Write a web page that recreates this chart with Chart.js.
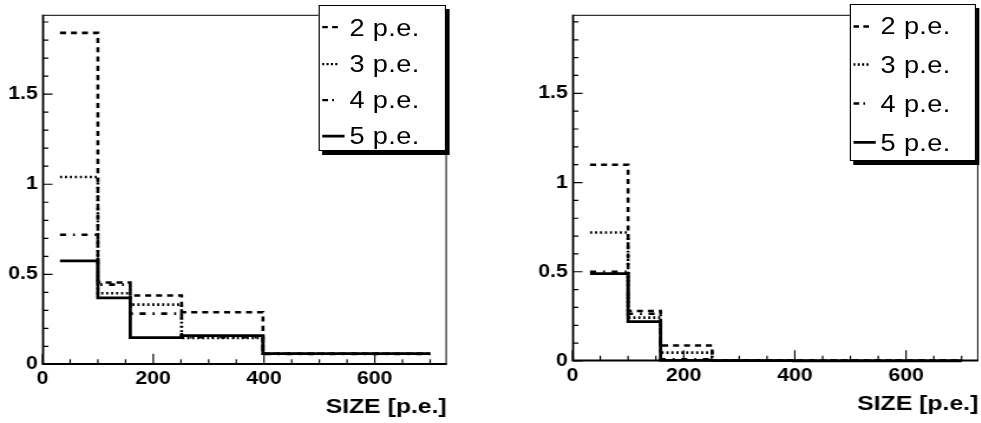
<!DOCTYPE html>
<html>
<head>
<meta charset="utf-8">
<script src="https://cdn.jsdelivr.net/npm/chart.js@4.4.1/dist/chart.umd.min.js"></script>
<style>
html,body{margin:0;padding:0;background:#fff;width:981px;height:423px;overflow:hidden}
.panel{position:absolute;top:0;height:423px;transform:scaleX(1.18);transform-origin:0 0}
.legend{position:absolute;border:1px solid #000;background:#fff;box-shadow:3px 4px 0 #000;box-sizing:border-box;font-family:'Liberation Sans',Arial,sans-serif;font-size:23px;color:#000}
.row{position:absolute;left:0;right:0}
.row svg{position:absolute;left:2.5px;top:0}
.row span{position:absolute;left:25.5px;top:50%;transform:translateY(-50%);line-height:1;white-space:nowrap;letter-spacing:0.3px}
</style>
</head>
<body>
<div class="panel" id="pL" style="left:0;width:416px"><canvas id="cL"></canvas></div>
<div class="panel" id="pR" style="left:530px;width:382px"><canvas id="cR"></canvas></div>
<script>
// ---- data ----
const binEdges = [31.6, 100, 158.5, 251.2, 398.1, 700];
const seriesLabels = ['2 p.e.', '3 p.e.', '4 p.e.', '5 p.e.'];

const leftPe2 = [1.84, 0.455, 0.383, 0.290, 0.060];
const leftPe3 = [1.04, 0.395, 0.332, 0.147, 0.060];
const leftPe4 = [0.72, 0.443, 0.282, 0.152, 0.058];
const leftPe5 = [0.575, 0.370, 0.149, 0.160, 0.060];

const rightPe2 = [1.10, 0.280, 0.087, 0.004, 0.002];
const rightPe3 = [0.72, 0.243, 0.047, 0.003, 0.001];
const rightPe4 = [0.50, 0.265, 0.010, 0.003, 0.001];
const rightPe5 = [0.49, 0.221, 0.003, 0.002, 0.001];

const xTickValues = [0, 200, 400, 600];
const yTickValues = [0, 0.5, 1, 1.5];
const xAxisTitle = 'SIZE [p.e.]';

// ---- styles ----
const dashStyles = [[5.1, 4.2], [1.8, 2.4], [5.1, 5.9, 1.7, 5.6], []];
const widths = [2.6, 2.6, 2.6, 2.8];
const legendDash = [[4.8, 3.7], [1.8, 1.9], [5, 3.5, 1.5, 10], []];
const legendLen = [14.5, 13, 10.5, 19];

Chart.defaults.font.family = "'Liberation Sans', Arial, Helvetica, sans-serif";
Chart.defaults.color = '#000';

const rootFrame = {
  id: 'rootFrame',
  afterDatasetsDraw(chart, args, opts) {
    const {ctx, chartArea: a, scales: {x, y}} = chart;
    ctx.save();
    ctx.strokeStyle = '#000';
    ctx.setLineDash([]);
    ctx.lineWidth = 1;
    ctx.strokeRect(a.left + 0.5, a.top + 0.5, a.right - a.left - 1, a.bottom - a.top - 1);
    ctx.lineWidth = 1.8;
    ctx.beginPath();
    ctx.moveTo(a.left + 0.5, a.top);
    ctx.lineTo(a.left + 0.5, a.bottom - 0.5);
    ctx.lineTo(a.right, a.bottom - 0.5);
    ctx.stroke();
    ctx.lineWidth = 1.2;
    ctx.beginPath();
    for (let k = 0; k * opts.xMinor <= x.max + 1e-9; k++) {
      const v = k * opts.xMinor;
      const major = xTickValues.some(t => Math.abs(t - v) < 1e-6);
      const px = x.getPixelForValue(v);
      if (px > a.right - 1) continue;
      ctx.moveTo(px, a.bottom);
      ctx.lineTo(px, a.bottom - (major ? 10.7 : 5.3));
    }
    for (let k = 0; k * opts.yMinor <= y.max + 1e-9; k++) {
      const v = k * opts.yMinor;
      const major = yTickValues.some(t => Math.abs(t - v) < 1e-6);
      const py = y.getPixelForValue(v);
      ctx.moveTo(a.left, py);
      ctx.lineTo(a.left + (major ? 8.5 : 5), py);
    }
    ctx.stroke();
    ctx.restore();
  }
};

function stepPoints(vals) {
  return binEdges.map((e, i) => ({x: e, y: vals[Math.min(i, vals.length - 1)]}));
}

function makeChart(canvasId, series, W, area, titlePad) {
  const H = 423;
  const datasets = series.map((vals, i) => ({
    label: seriesLabels[i],
    data: stepPoints(vals),
    stepped: 'before',
    borderColor: '#000',
    borderWidth: widths[i],
    borderDash: dashStyles[i],
    borderCapStyle: 'butt',
    pointRadius: 0,
    fill: false,
    clip: 6
  }));
  return new Chart(document.getElementById(canvasId), {
    type: 'line',
    data: {datasets},
    options: {
      responsive: true,
      maintainAspectRatio: false,
      animation: false,
      events: [],
      layout: {padding: {left: 0, top: area.top, right: W - area.right, bottom: 0}},
      plugins: {legend: {display: false}, tooltip: {enabled: false}, rootFrame: {xMinor: 50, yMinor: 0.1}},
      scales: {
        x: {
          type: 'linear', min: 0, max: 730,
          grid: {display: false, drawTicks: false},
          border: {display: false},
          afterBuildTicks: s => { s.ticks = xTickValues.map(v => ({value: v})); },
          afterFit: s => { s.height = H - area.bottom; },
          ticks: {autoSkip: false, maxRotation: 0, padding: 4, font: {size: 18, weight: 'bold'}, callback: v => String(v)},
          title: {display: true, text: xAxisTitle, align: 'end', font: {size: 21, weight: 'bold'}, padding: {top: 0, bottom: titlePad}}
        },
        y: {
          type: 'linear', min: 0, max: 1.94,
          grid: {display: false, drawTicks: false},
          border: {display: false},
          afterBuildTicks: s => { s.ticks = yTickValues.map(v => ({value: v})); },
          afterFit: s => { s.width = area.left; },
          ticks: {autoSkip: false, padding: 4, font: {size: 18, weight: 'bold'}, callback: v => String(v)}
        }
      }
    },
    plugins: [rootFrame]
  });
}

function makeLegend(panelId, box, rowTop, rowH) {
  const panel = document.getElementById(panelId);
  const lg = document.createElement('div');
  lg.className = 'legend';
  lg.style.left = box.left + 'px';
  lg.style.top = box.top + 'px';
  lg.style.width = box.width + 'px';
  lg.style.height = box.height + 'px';
  seriesLabels.forEach((lab, i) => {
    const row = document.createElement('div');
    row.className = 'row';
    row.style.top = (rowTop + i * rowH) + 'px';
    row.style.height = rowH + 'px';
    const mid = rowH / 2;
    const svgNS = 'http://www.w3.org/2000/svg';
    const svg = document.createElementNS(svgNS, 'svg');
    svg.setAttribute('width', 24);
    svg.setAttribute('height', rowH);
    const ln = document.createElementNS(svgNS, 'line');
    ln.setAttribute('x1', 0); ln.setAttribute('x2', legendLen[i]);
    ln.setAttribute('y1', mid); ln.setAttribute('y2', mid);
    ln.setAttribute('stroke', '#000');
    ln.setAttribute('stroke-width', i === 3 ? 2.8 : 2.4);
    if (legendDash[i].length) ln.setAttribute('stroke-dasharray', legendDash[i].join(' '));
    svg.appendChild(ln);
    const sp = document.createElement('span');
    sp.textContent = lab;
    row.appendChild(svg);
    row.appendChild(sp);
    lg.appendChild(row);
  });
  panel.appendChild(lg);
}

makeChart('cL', [leftPe2, leftPe3, leftPe4, leftPe5], 416, {left: 36, right: 378.6, top: 5, bottom: 364.5}, 3.4);
makeChart('cR', [rightPe2, rightPe3, rightPe4, rightPe5], 382, {left: 36, right: 379.9, top: 4, bottom: 361}, 5.9);
makeLegend('pL', {left: 269.7, top: 5, width: 108, height: 146}, 3.4, 36.3);
makeLegend('pR', {left: 270.6, top: 4, width: 107.4, height: 157}, 1.5, 38.9);
</script>
</body>
</html>
